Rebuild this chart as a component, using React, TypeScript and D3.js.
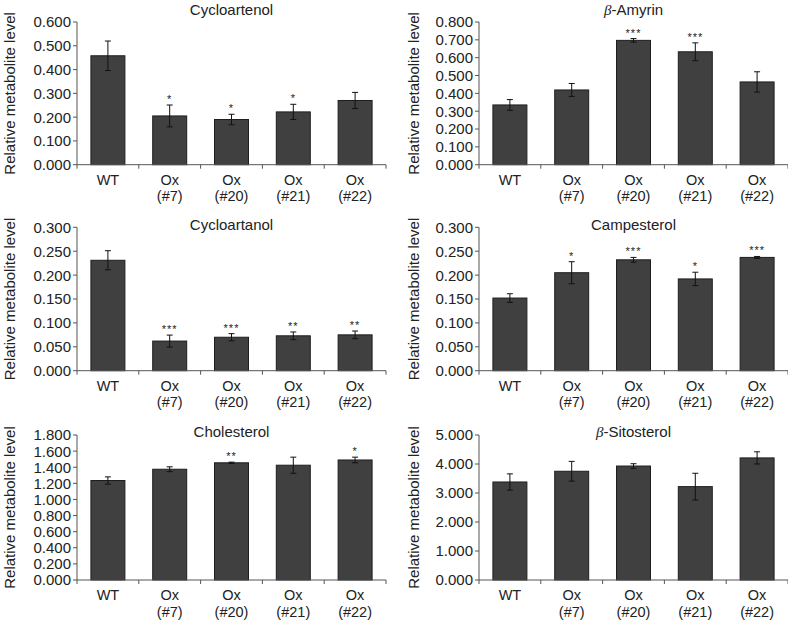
import React from "react";
import * as d3 from "d3";

const categoryLine1 = ["WT", "Ox", "Ox", "Ox", "Ox"];
const categoryLine2 = ["", "(#7)", "(#20)", "(#21)", "(#22)"];
const categories = ["WT", "Ox7", "Ox20", "Ox21", "Ox22"];

const cycloartenolMean = [0.458, 0.205, 0.19, 0.222, 0.27];
const cycloartenolErr = [0.062, 0.046, 0.022, 0.032, 0.034];
const cycloartenolStars = ["", "*", "*", "*", ""];

const amyrinMean = [0.335, 0.419, 0.697, 0.633, 0.464];
const amyrinErr = [0.03, 0.036, 0.01, 0.05, 0.057];
const amyrinStars = ["", "", "***", "***", ""];

const cycloartanolMean = [0.231, 0.062, 0.07, 0.073, 0.075];
const cycloartanolErr = [0.02, 0.0125, 0.0075, 0.008, 0.008];
const cycloartanolStars = ["", "***", "***", "**", "**"];

const campesterolMean = [0.152, 0.205, 0.232, 0.192, 0.237];
const campesterolErr = [0.009, 0.023, 0.005, 0.014, 0.002];
const campesterolStars = ["", "*", "***", "*", "***"];

const cholesterolMean = [1.235, 1.375, 1.455, 1.425, 1.49];
const cholesterolErr = [0.045, 0.03, 0.008, 0.1, 0.035];
const cholesterolStars = ["", "", "**", "", "*"];

const sitosterolMean = [3.38, 3.75, 3.93, 3.22, 4.21];
const sitosterolErr = [0.28, 0.34, 0.08, 0.46, 0.21];
const sitosterolStars = ["", "", "", "", ""];

const panels = [
  { beta: false, name: "Cycloartenol", mean: cycloartenolMean, err: cycloartenolErr, stars: cycloartenolStars, max: 0.6, step: 0.1 },
  { beta: true, name: "-Amyrin", mean: amyrinMean, err: amyrinErr, stars: amyrinStars, max: 0.8, step: 0.1 },
  { beta: false, name: "Cycloartanol", mean: cycloartanolMean, err: cycloartanolErr, stars: cycloartanolStars, max: 0.3, step: 0.05 },
  { beta: false, name: "Campesterol", mean: campesterolMean, err: campesterolErr, stars: campesterolStars, max: 0.3, step: 0.05 },
  { beta: false, name: "Cholesterol", mean: cholesterolMean, err: cholesterolErr, stars: cholesterolStars, max: 1.8, step: 0.2 },
  { beta: true, name: "-Sitosterol", mean: sitosterolMean, err: sitosterolErr, stars: sitosterolStars, max: 5, step: 1 },
];

const FONT = "'Liberation Sans', Arial, Helvetica, sans-serif";
const colX = [77, 479];
const plotW = 309;
const rowTop = [22, 227.3, 435];
const rowBottom = [164.7, 370.7, 580];
const titleY = [15, 230, 437];
const yTitleX = [10, 414];

function Panel({ p, idx }: { p: any; idx: number }) {
  const col = idx % 2;
  const row = Math.floor(idx / 2);
  const x0 = colX[col];
  const x1 = x0 + plotW;
  const yTop = rowTop[row];
  const yBot = rowBottom[row];
  const x = d3.scaleBand().domain(categories).range([x0, x1]).paddingInner(0.45).paddingOuter(0.225);
  const y = d3.scaleLinear().domain([0, p.max]).range([yBot, yTop]);
  const n = Math.round(p.max / p.step);
  const ticks = d3.range(n + 1).map((i) => i * p.step);
  const fmt = d3.format(".3f");
  const step = (x1 - x0) / categories.length;
  const boundaries = d3.range(categories.length + 1).map((i) => x0 + i * step);
  const axisColor = "#555";
  const cx = (x0 + x1) / 2;
  return (
    <g>
      <text x={cx} y={titleY[row]} textAnchor="middle" fontSize={15} fontFamily={FONT} fill="#222">
        {p.beta ? <tspan fontStyle="italic" fontFamily="'Liberation Serif', 'Times New Roman', serif">β</tspan> : null}
        {p.name}
      </text>
      <text
        transform={`translate(${yTitleX[col]},${(yTop + yBot) / 2}) rotate(-90)`}
        textAnchor="middle"
        dy="0.35em"
        fontSize={15}
        fontFamily={FONT}
        fill="#222"
      >
        Relative metabolite level
      </text>
      {ticks.map((t, i) => (
        <g key={i}>
          <line x1={x0 - 4} x2={x0} y1={y(t)} y2={y(t)} stroke={axisColor} strokeWidth={1} />
          <text x={x0 - 6} y={y(t)} dy="0.36em" textAnchor="end" fontSize={15} fontFamily={FONT} fill="#222">
            {fmt(t)}
          </text>
        </g>
      ))}
      {categories.map((c, i) => {
        const bx = x(c)!;
        const bw = x.bandwidth();
        const m = p.mean[i];
        const e = p.err[i];
        const mx = bx + bw / 2;
        return (
          <g key={c}>
            <rect x={bx} y={y(m)} width={bw} height={yBot - y(m)} fill="#404040" stroke="#1e1e1e" strokeWidth={1} />
            <line x1={mx} x2={mx} y1={y(m + e)} y2={y(m - e)} stroke="#111" strokeWidth={1} />
            <line x1={mx - 3} x2={mx + 3} y1={y(m + e)} y2={y(m + e)} stroke="#111" strokeWidth={1} />
            <line x1={mx - 3} x2={mx + 3} y1={y(m - e)} y2={y(m - e)} stroke="#111" strokeWidth={1} />
            {p.stars[i] ? (
              <text x={mx} y={y(m + e) - 2} textAnchor="middle" fontSize={11} letterSpacing={1} fontFamily={FONT} fill="#222">
                {p.stars[i]}
              </text>
            ) : null}
            <text x={mx} y={yBot + 20} textAnchor="middle" fontSize={14.5} fontFamily={FONT} fill="#222">
              {categoryLine1[i]}
            </text>
            {categoryLine2[i] ? (
              <text x={mx} y={yBot + 36.5} textAnchor="middle" fontSize={14.5} fontFamily={FONT} fill="#222">
                {categoryLine2[i]}
              </text>
            ) : null}
          </g>
        );
      })}
      <line x1={x0} x2={x0} y1={yTop} y2={yBot} stroke={axisColor} strokeWidth={1} />
      <line x1={x0} x2={x1} y1={yBot} y2={yBot} stroke={axisColor} strokeWidth={1} />
      {boundaries.map((bx, i) => (
        <line key={i} x1={bx} x2={bx} y1={yBot} y2={yBot + 4} stroke={axisColor} strokeWidth={1} />
      ))}
    </g>
  );
}

export default function App() {
  return (
    <svg width={788} height={620} style={{ position: "absolute", left: 0, top: 0, background: "#fff" }}>
      <rect x={0} y={0} width={788} height={620} fill="#fff" />
      {panels.map((p, i) => (
        <Panel key={i} p={p} idx={i} />
      ))}
    </svg>
  );
}
